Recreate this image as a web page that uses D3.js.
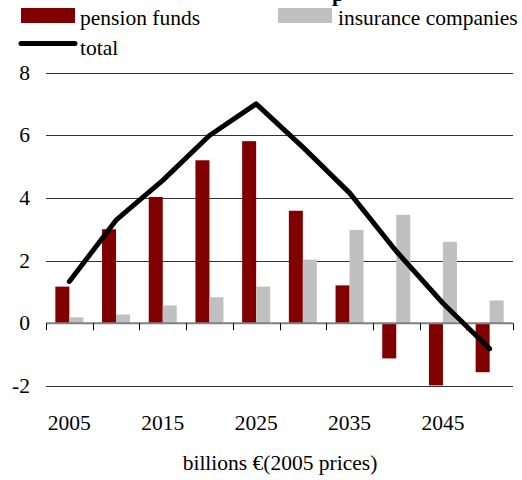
<!DOCTYPE html>
<html>
<head>
<meta charset="utf-8">
<script src="https://cdn.jsdelivr.net/npm/d3@7"></script>
<style>
  body { margin: 0; background: #fff; }
</style>
</head>
<body>
<script>
// data
const years = ["2005", "2010", "2015", "2020", "2025", "2030", "2035", "2040", "2045", "2050"];
const yearLabels = ["2005", "2015", "2025", "2035", "2045"];
const pension = [1.17, 3.0, 4.03, 5.2, 5.81, 3.59, 1.21, -1.12, -1.98, -1.56];
const insurance = [0.19, 0.28, 0.57, 0.83, 1.17, 2.03, 2.98, 3.46, 2.6, 0.73];
const total = [1.33, 3.29, 4.56, 5.99, 7.0, 5.62, 4.16, 2.3, 0.64, -0.81];
const yTicks = [-2, 0, 2, 4, 6, 8];

const width = 522, height = 480;
const serif = '"Liberation Serif"';
const fs = 21.5;

const svg = d3.select("body")
  .append("svg")
  .attr("width", width)
  .attr("height", height);

const x = d3.scaleBand()
  .domain(years)
  .range([46, 513])
  .paddingInner(0)
  .paddingOuter(0);

const y = d3.scaleLinear()
  .domain([-2, 8])
  .range([386, 72.5]);

const barW = 14;

// small helper for the serif labels
function label(sel) {
  return sel.style("font-family", serif).attr("font-size", fs);
}

// grid lines
svg.selectAll("line.grid")
  .data(yTicks.filter(d => d !== 0))
  .enter()
  .append("line")
  .attr("class", "grid")
  .attr("x1", 46)
  .attr("x2", 513)
  .attr("y1", d => Math.round(y(d)) + 0.5)
  .attr("y2", d => Math.round(y(d)) + 0.5)
  .attr("stroke", "#333")
  .attr("stroke-width", 1);

// y tick labels
svg.selectAll("text.ytick")
  .data(yTicks)
  .enter()
  .append("text")
  .attr("class", "ytick")
  .attr("x", 30)
  .attr("y", d => y(d) + 7)
  .attr("text-anchor", "end")
  .call(label)
  .text(d => d);

// bars
svg.selectAll("rect.pension")
  .data(pension)
  .enter()
  .append("rect")
  .attr("class", "pension")
  .attr("x", (d, i) => x(years[i]) + x.bandwidth() / 2 - barW)
  .attr("y", d => y(Math.max(0, d)))
  .attr("width", barW)
  .attr("height", d => Math.abs(y(d) - y(0)))
  .attr("fill", "#800000");

svg.selectAll("rect.insurance")
  .data(insurance)
  .enter()
  .append("rect")
  .attr("class", "insurance")
  .attr("x", (d, i) => x(years[i]) + x.bandwidth() / 2)
  .attr("y", d => y(Math.max(0, d)))
  .attr("width", barW)
  .attr("height", d => Math.abs(y(d) - y(0)))
  .attr("fill", "#c0c0c0");

// zero axis with ticks
svg.append("line")
  .attr("x1", 46)
  .attr("x2", 513)
  .attr("y1", y(0))
  .attr("y2", y(0))
  .attr("stroke", "#808080")
  .attr("stroke-width", 2);

const bounds = years.map(d => x(d)).concat([x.range()[1]]);
svg.selectAll("line.xtick")
  .data(bounds)
  .enter()
  .append("line")
  .attr("class", "xtick")
  .attr("x1", d => Math.round(d) + 0.5)
  .attr("x2", d => Math.round(d) + 0.5)
  .attr("y1", y(0))
  .attr("y2", y(0) + 7)
  .attr("stroke", "#000")
  .attr("stroke-width", 1);

// x labels
svg.selectAll("text.xlab")
  .data(yearLabels)
  .enter()
  .append("text")
  .attr("class", "xlab")
  .attr("x", d => x(d) + x.bandwidth() / 2)
  .attr("y", 430)
  .attr("text-anchor", "middle")
  .call(label)
  .text(d => d);

// total line
const line = d3.line()
  .x((d, i) => x(years[i]) + x.bandwidth() / 2)
  .y(d => y(d));

svg.append("path")
  .datum(total)
  .attr("d", line)
  .attr("fill", "none")
  .attr("stroke", "#000")
  .attr("stroke-width", 5)
  .attr("stroke-linejoin", "round")
  .attr("stroke-linecap", "round");

// axis title
svg.append("text")
  .attr("x", 280)
  .attr("y", 470)
  .attr("text-anchor", "middle")
  .call(label)
  .text("billions €(2005 prices)");

// clipped title fragment at top
svg.append("text")
  .attr("x", 332)
  .attr("y", 1)
  .style("font-family", serif)
  .attr("font-size", 22)
  .attr("font-weight", "bold")
  .text("p");

// legend
svg.append("rect")
  .attr("x", 21).attr("y", 8)
  .attr("width", 54).attr("height", 15)
  .attr("fill", "#800000");
svg.append("text")
  .attr("x", 80).attr("y", 25)
  .call(label)
  .text("pension funds");

svg.append("rect")
  .attr("x", 278).attr("y", 8)
  .attr("width", 54).attr("height", 15)
  .attr("fill", "#c0c0c0");
svg.append("text")
  .attr("x", 338).attr("y", 25)
  .call(label)
  .text("insurance companies");

svg.append("line")
  .attr("x1", 21).attr("x2", 75)
  .attr("y1", 43.5).attr("y2", 43.5)
  .attr("stroke", "#000")
  .attr("stroke-width", 5)
  .attr("stroke-linecap", "round");
svg.append("text")
  .attr("x", 80).attr("y", 55)
  .call(label)
  .text("total");
</script>
</body>
</html>
